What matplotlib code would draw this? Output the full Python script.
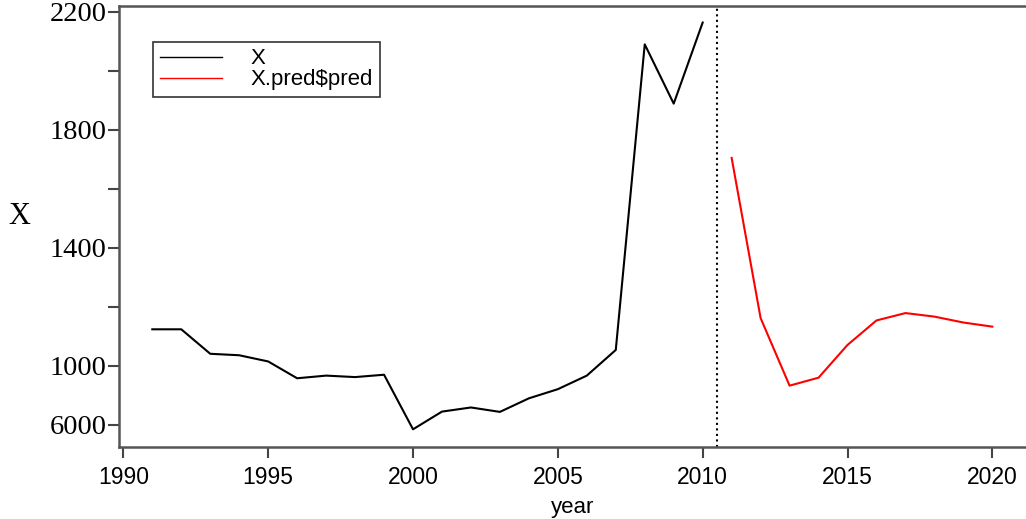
import numpy as np
import matplotlib
matplotlib.use("Agg")
import matplotlib.pyplot as plt
from matplotlib.ticker import FixedLocator

# observed series X (1991-2010)
years_obs = list(range(1991, 2011))
x_obs = [1124, 1124, 1041, 1036, 1015, 958, 967, 962, 970, 785,
         845, 859, 844, 890, 921, 967, 1054, 2090, 1889, 2164]

# forecast X.pred$pred (2011-2020)
years_pred = list(range(2011, 2021))
x_pred = [1705, 1162, 933, 960, 1071, 1154, 1179, 1167, 1147, 1133]

ytick_vals = [800, 1000, 1400, 1800, 2200]
ytick_labels = ["6000", "1000", "1400", "1800", "2200"]
yminor_vals = [1200, 1600, 2000]
xtick_vals = [1990, 1995, 2000, 2005, 2010, 2015, 2020]
split_year = 2010.5

W, H = 1026, 519
fig = plt.figure(figsize=(W/100, H/100), dpi=100)
ax = fig.add_axes([119/W, 1-447/H, (1030-119)/W, (447-6)/H])

ax.plot(years_obs, x_obs, color="black", lw=1.5, label="X")
ax.plot(years_pred, x_pred, color="red", lw=1.5, label="X.pred$pred")
ax.axvline(split_year, color="black", ls=":", lw=1.5)

ax.set_xlim(1989.85, 2021.3)
ax.set_ylim(725, 2220)

ax.yaxis.set_major_locator(FixedLocator(ytick_vals))
ax.set_yticklabels(ytick_labels, family="Liberation Serif", fontsize=20.5)
ax.yaxis.set_minor_locator(FixedLocator(yminor_vals))
ax.set_xticks(xtick_vals)
ax.set_xticklabels([str(v) for v in xtick_vals], family="Liberation Sans", fontsize=16.5)

ax.tick_params(axis="y", which="both", direction="out", length=8, width=1.5, color="#444444", pad=1)
ax.tick_params(axis="x", direction="out", length=8, width=1.5, color="#444444", pad=6)

for s in ["left", "bottom", "top"]:
    ax.spines[s].set_color("#555555")
    ax.spines[s].set_linewidth(1.8)
ax.spines["right"].set_visible(False)

fig.text(19/W, 1-216/H, "X", family="Liberation Serif", fontsize=22, ha="center", va="center")
fig.text(573/W, 1-508/H, "year", family="Liberation Sans", fontsize=16, ha="center", va="center")

leg = ax.legend(loc="upper left", bbox_to_anchor=((153-119)/(1030-119), 1-(41.7-6)/(447-6)),
                prop={"family": "Liberation Sans", "size": 16}, frameon=True, fancybox=False,
                handlelength=2.8, handletextpad=1.3, labelspacing=0.0, borderpad=0.3,
                borderaxespad=0)
leg.get_frame().set_edgecolor("black")
leg.get_frame().set_linewidth(1.2)
for l in leg.get_lines():
    l.set_linewidth(1.0)

fig.savefig("out.png", dpi=100)
